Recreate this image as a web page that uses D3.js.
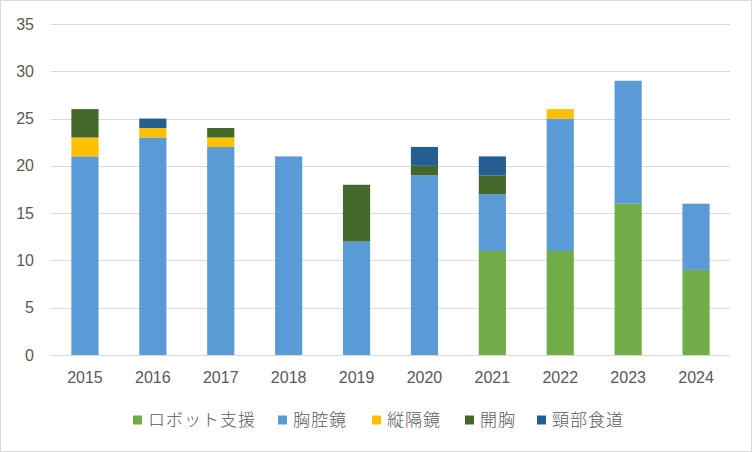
<!DOCTYPE html>
<html>
<head>
<meta charset="utf-8">
<script src="https://cdn.jsdelivr.net/npm/d3@7"></script>
<style>
  body { margin: 0; background: #fff; }
  text { font-family: "Noto Sans CJK JP", "Liberation Sans", sans-serif; }
</style>
</head>
<body>
<div id="chart"></div>
<script>
// chart data
const years = ["2015", "2016", "2017", "2018", "2019", "2020", "2021", "2022", "2023", "2024"];
const seriesNames = ["ロボット支援", "胸腔鏡", "縦隔鏡", "開胸", "頸部食道"];
const robot        = [0, 0, 0, 0, 0, 0, 11, 11, 16, 9];
const thoracoscopy = [21, 23, 22, 21, 12, 19, 6, 14, 13, 7];
const mediastino   = [2, 1, 1, 0, 0, 0, 0, 1, 0, 0];
const thoracotomy  = [3, 0, 1, 0, 6, 1, 2, 0, 0, 0];
const cervical     = [0, 1, 0, 0, 0, 2, 2, 0, 0, 0];
const yTicks = [0, 5, 10, 15, 20, 25, 30, 35];

const colors = ["#70ad47", "#5b9bd5", "#ffc000", "#43682b", "#255e91"];

const width = 752, height = 452;
const margin = { top: 24, bottom: 97, left: 51, right: 22 };

// build table for stack
const keys = ["robot", "thoracoscopy", "mediastino", "thoracotomy", "cervical"];
const table = years.map((y, i) => ({
  year: y,
  robot: robot[i],
  thoracoscopy: thoracoscopy[i],
  mediastino: mediastino[i],
  thoracotomy: thoracotomy[i],
  cervical: cervical[i]
}));
const stacked = d3.stack().keys(keys)(table);

const svg = d3.select("#chart")
  .append("svg")
  .attr("width", width)
  .attr("height", height);

// outer border
svg.append("rect")
  .attr("x", 0.5).attr("y", 0.5)
  .attr("width", width - 1).attr("height", height - 1)
  .attr("fill", "#fff")
  .attr("stroke", "#d9d9d9");

const xScale = d3.scaleBand()
  .domain(years)
  .range([margin.left, width - margin.right])
  .paddingInner(0.6)
  .paddingOuter(0.3);

const yScale = d3.scaleLinear()
  .domain([0, 35])
  .range([height - margin.bottom, margin.top]);

// gridlines
svg.append("g")
  .selectAll("line")
  .data(yTicks)
  .join("line")
  .attr("x1", margin.left)
  .attr("x2", width - margin.right)
  .attr("y1", d => Math.round(yScale(d)) + 0.5)
  .attr("y2", d => Math.round(yScale(d)) + 0.5)
  .attr("stroke", "#d9d9d9")
  .attr("stroke-width", 1);

// y axis labels
const yAxis = d3.axisLeft(yScale).tickValues(yTicks).tickSize(0).tickPadding(0);
const yAxisGroup = svg.append("g")
  .attr("transform", `translate(${margin.left - 17}, 0)`)
  .call(yAxis);
yAxisGroup.select(".domain").remove();
yAxisGroup.selectAll("text")
  .attr("fill", "#595959")
  .attr("font-size", 16)
  .style("font-family", "Liberation Sans, sans-serif");

// bars
svg.append("g")
  .selectAll("g")
  .data(stacked)
  .join("g")
  .attr("fill", (d, i) => colors[i])
  .selectAll("rect")
  .data(d => d)
  .join("rect")
  .attr("x", d => xScale(d.data.year))
  .attr("width", xScale.bandwidth())
  .attr("y", d => yScale(d[1]))
  .attr("height", d => yScale(d[0]) - yScale(d[1]));

// x baseline
svg.append("line")
  .attr("x1", margin.left)
  .attr("x2", width - margin.right)
  .attr("y1", Math.round(yScale(0)) + 0.5)
  .attr("y2", Math.round(yScale(0)) + 0.5)
  .attr("stroke", "#d9d9d9");

// x axis labels
const xAxis = d3.axisBottom(xScale).tickSize(0).tickPadding(0);
const xAxisGroup = svg.append("g")
  .attr("transform", `translate(0, ${yScale(0) + 17})`)
  .call(xAxis);
xAxisGroup.select(".domain").remove();
xAxisGroup.selectAll("text")
  .attr("fill", "#595959")
  .attr("font-size", 16)
  .style("font-family", "Liberation Sans, sans-serif");

// legend
const legendX = [133, 278, 372, 465, 537];
const legend = svg.append("g").attr("transform", "translate(0, 420)");
const li = legend.selectAll("g")
  .data(seriesNames)
  .join("g")
  .attr("transform", (d, i) => `translate(${legendX[i]}, 0)`);
li.append("rect")
  .attr("x", 0).attr("y", -4.5)
  .attr("width", 9).attr("height", 9)
  .attr("fill", (d, i) => colors[i]);
li.append("text")
  .attr("x", 15)
  .attr("y", 0)
  .attr("dy", "0.36em")
  .attr("fill", "#595959")
  .attr("font-size", 17)
  .attr("letter-spacing", 1)
  .style("font-weight", 300)
  .text(d => d);
</script>
</body>
</html>
